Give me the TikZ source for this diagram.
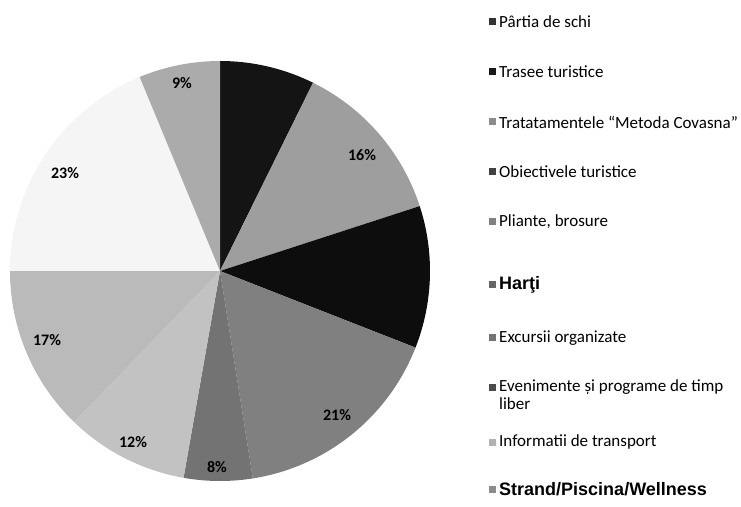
\documentclass[tikz,border=0pt]{standalone}
\usepackage{fontspec}
\setmainfont{Carlito}
\newfontfamily\arialfont{Liberation Sans}
\begin{document}
\begin{tikzpicture}[x=1pt,y=1pt,
  pct/.style={font=\fontsize{16}{16}\selectfont\bfseries, inner sep=0pt},
  legtext/.style={font=\fontsize{17}{18}\selectfont, anchor=west, inner sep=0pt, align=left},
  legarial/.style={font=\arialfont\fontsize{18}{18}\selectfont\bfseries, anchor=west, inner sep=0pt},
  legmark/.style={minimum size=7pt, inner sep=0pt, draw=none}]
\useasboundingbox (0,0) rectangle (741,506);
\coordinate (c) at (220,235);
\def\R{210}
% slices
\fill[black!92]  (c) -- ++(90:\R)    arc[start angle=90,    end angle=63.7,   radius=\R] -- cycle;
\fill[black!38]  (c) -- ++(63.7:\R)  arc[start angle=63.7,  end angle=18,     radius=\R] -- cycle;
\fill[black!95]  (c) -- ++(18:\R)    arc[start angle=18,    end angle=-21.4,  radius=\R] -- cycle;
\fill[black!50]  (c) -- ++(-21.4:\R) arc[start angle=-21.4, end angle=-81,    radius=\R] -- cycle;
\fill[black!55]  (c) -- ++(-81:\R)   arc[start angle=-81,   end angle=-100,   radius=\R] -- cycle;
\fill[black!24]  (c) -- ++(-100:\R)  arc[start angle=-100,  end angle=-134,   radius=\R] -- cycle;
\fill[black!27]  (c) -- ++(-134:\R)  arc[start angle=-134,  end angle=-180,   radius=\R] -- cycle;
\fill[black!4]   (c) -- ++(-180:\R)  arc[start angle=-180,  end angle=-247.5, radius=\R] -- cycle;
\fill[black!33]  (c) -- ++(112.5:\R) arc[start angle=112.5, end angle=90,     radius=\R] -- cycle;
% percentage labels
\node[pct] (p9)  at (182,423) {9\%};
\node[pct] (p16) at (362,351) {16\%};
\node[pct] (p23) at (65,333)  {23\%};
\node[pct] (p17) at (47,166)  {17\%};
\node[pct] (p12) at (133,64)  {12\%};
\node[pct] (p8)  at (217,39)  {8\%};
\node[pct] (p21) at (337,91)  {21\%};
% legend
\node[legmark, fill=black!80] (m1)  at (492,484) {};
\node[legtext] (t1)  at (499,484) {Pârtia de schi};
\node[legmark, fill=black!90] (m2)  at (492,434) {};
\node[legtext] (t2)  at (499,434) {Trasee turistice};
\node[legmark, fill=black!45] (m3)  at (492,384) {};
\node[legtext] (t3)  at (499,384) {Tratatamentele “Metoda Covasna”};
\node[legmark, fill=black!75] (m4)  at (492,334) {};
\node[legtext] (t4)  at (499,334) {Obiectivele turistice};
\node[legmark, fill=black!50] (m5)  at (492,284) {};
\node[legtext] (t5)  at (499,284) {Pliante, brosure};
\node[legmark, fill=black!60] (m6)  at (492,221) {};
\node[legarial] (t6)  at (499,221) {Harţi};
\node[legmark, fill=black!55] (m7)  at (492,168) {};
\node[legtext] (t7)  at (499,168) {Excursii organizate};
\node[legmark, fill=black!70] (m8)  at (492,118) {};
\node[legtext, anchor=north west] (t8)  at (499,127) {Evenimente și programe de timp\\liber};
\node[legmark, fill=black!30] (m9)  at (492,64) {};
\node[legtext] (t9)  at (499,64) {Informatii de transport};
\node[legmark, fill=black!45] (m10) at (492,17) {};
\node[legarial] (t10) at (499,17) {Strand/Piscina/Wellness};
\end{tikzpicture}
\end{document}
